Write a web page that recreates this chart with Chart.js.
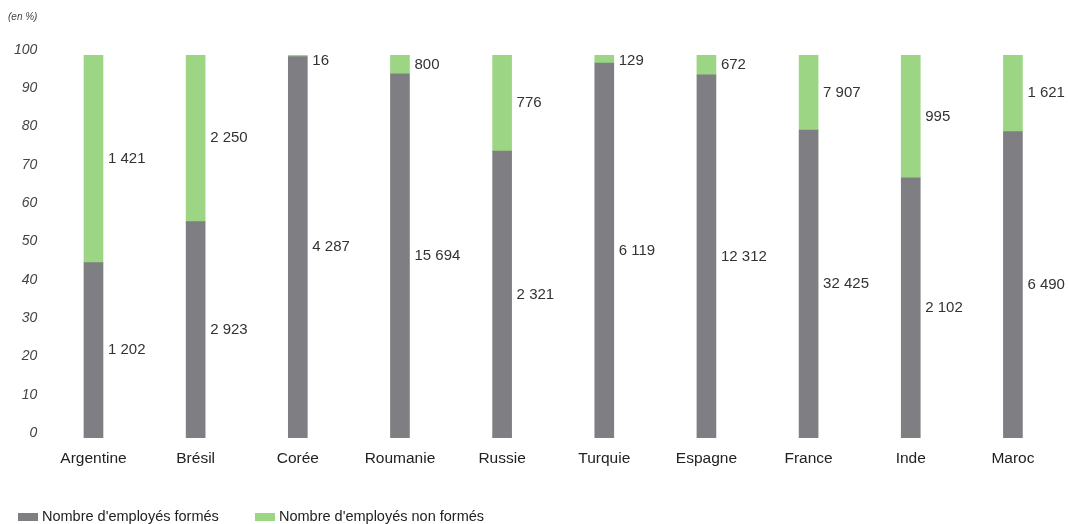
<!DOCTYPE html>
<html>
<head>
<meta charset="utf-8">
<script src="https://cdn.jsdelivr.net/npm/chart.js@4.4.1/dist/chart.umd.min.js"></script>
<style>
    html, body { margin: 0; padding: 0; background: #fff; }
    #wrap { width: 1070px; height: 524px; position: relative; }
</style>
</head>
<body>
<div id="wrap"><canvas id="grafico" width="1070" height="524"></canvas></div>
<script>
// ── DATOS ─────────────────────────────────────────────
const pays = ['Argentine', 'Brésil', 'Corée', 'Roumanie', 'Russie', 'Turquie', 'Espagne', 'France', 'Inde', 'Maroc'];

// nombres affichés à côté des barres
const nbFormes    = [1202, 2923, 4287, 15694, 2321, 6119, 12312, 32425, 2102, 6490];
const nbNonFormes = [1421, 2250,   16,   800,  776,  129,   672,  7907,  995, 1621];

// hauteurs des barres (en %)
const pctFormes    = [45.8, 56.5, 99.6, 95.1, 74.9, 97.9, 94.8, 80.4, 67.9, 80.0];
const pctNonFormes = [54.2, 43.5,  0.4,  4.9, 25.1,  2.1,  5.2, 19.6, 32.1, 20.0];

const yTicks = [0, 10, 20, 30, 40, 50, 60, 70, 80, 90, 100];

const GRIS = '#7f7f83';
const VERT = '#9cd684';
const SANS = "'Liberation Sans', Arial, sans-serif";

function fmt(n) { return String(n).replace(/\B(?=(\d{3})+(?!\d))/g, ' '); }

// étiquettes à droite de chaque segment
const etiquettes = {
    id: 'etiquettes',
    afterDatasetsDraw(chart) {
        const ctx = chart.ctx;
        ctx.save();
        ctx.font = '15px ' + SANS;
        ctx.fillStyle = '#333';
        ctx.textAlign = 'left';
        ctx.textBaseline = 'middle';
        chart.data.datasets.forEach((ds, i) => {
            const meta = chart.getDatasetMeta(i);
            meta.data.forEach((bar, j) => {
                const haut = Math.min(bar.y, bar.base);
                const bas  = Math.max(bar.y, bar.base);
                let y = (haut + bas) / 2;
                if (i === 1) y = Math.max(y, chart.chartArea.top + 6);
                ctx.fillText(fmt(ds.nombres[j]), bar.x + bar.width / 2 + 5, y);
            });
        });
        ctx.restore();
    }
};

// légende en bas à gauche
const legende = {
    id: 'legende',
    afterDraw(chart) {
        const ctx = chart.ctx;
        ctx.save();
        ctx.font = '14.5px ' + SANS;
        ctx.textBaseline = 'middle';
        const xs = [18, 255];
        chart.data.datasets.forEach((ds, i) => {
            ctx.fillStyle = ds.backgroundColor;
            ctx.fillRect(xs[i], 513, 20, 8);
            ctx.fillStyle = '#222';
            ctx.fillText(ds.label, xs[i] + 24, 517);
        });
        ctx.restore();
    }
};

new Chart(document.getElementById('grafico').getContext('2d'), {
    type: 'bar',
    data: {
        labels: pays,
        datasets: [
            { label: "Nombre d'employés formés", data: pctFormes, nombres: nbFormes, backgroundColor: GRIS },
            { label: "Nombre d'employés non formés", data: pctNonFormes, nombres: nbNonFormes, backgroundColor: VERT }
        ]
    },
    options: {
        responsive: false,
        animation: false,
        layout: { padding: { top: 0, left: 8, right: 6, bottom: 46 } },
        datasets: { bar: { barThickness: 19 } },
        plugins: {
            legend: { display: false },
            tooltip: { enabled: false },
            title: {
                display: true,
                text: '(en %)',
                align: 'start',
                color: '#444',
                font: { family: SANS, size: 10, style: 'italic', weight: 'normal' },
                padding: { top: 11, bottom: 32 }
            }
        },
        scales: {
            x: {
                stacked: true,
                grid: { display: false },
                border: { display: false },
                ticks: { color: '#222', padding: 3, font: { family: SANS, size: 15.5 } },
                afterFit(s) { s.height = 40; }
            },
            y: {
                stacked: true,
                min: 0, max: 100,
                grid: { display: false, drawTicks: false },
                border: { display: false },
                afterBuildTicks(s) { s.ticks = yTicks.map(v => ({ value: v })); },
                ticks: { color: '#444', padding: 5, labelOffset: -5, font: { family: SANS, size: 14, style: 'italic' } },
                afterFit(s) { s.width = 34.4; }
            }
        }
    },
    plugins: [etiquettes, legende]
});
</script>
</body>
</html>
